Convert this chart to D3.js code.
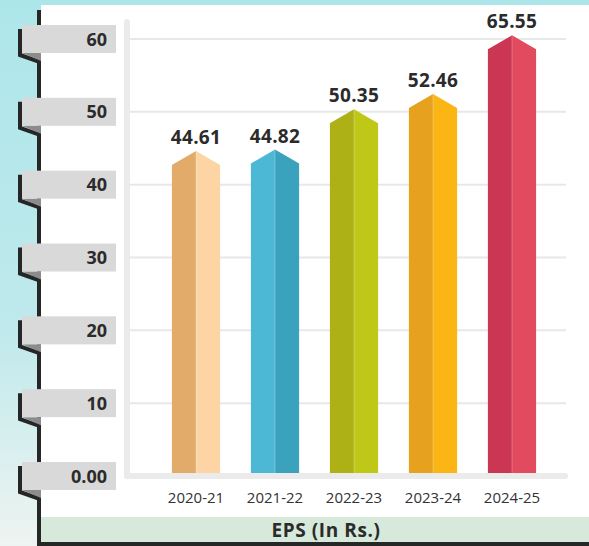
<!DOCTYPE html>
<html>
<head>
    <title>EPS (In Rs.)</title>
    <style>
        body { margin: 0; }
        svg { display: block; font-family: "Open Sans", sans-serif; }
    </style>
</head>
<body>
    <div id="chart"></div>
    <script src="https://d3js.org/d3.v7.min.js"></script>
    <script>
        // Data
        const years = ["2020-21", "2021-22", "2022-23", "2023-24", "2024-25"];
        const eps = [44.61, 44.82, 50.35, 52.46, 65.55];
        const tickValues = [0, 10, 20, 30, 40, 50, 60];
        const tickLabels = ["0.00", "10", "20", "30", "40", "50", "60"];
        const leftColors = ["#e3ab6a", "#4db7d6", "#adb116", "#e6a21e", "#cb3652"];
        const rightColors = ["#fdd5a5", "#3aa2bd", "#bfc817", "#fbb616", "#e24a60"];
        const barCap = 60.5; // bars above the axis top are cut here

        const W = 589, H = 546;

        const svg = d3.select("#chart").append("svg")
            .attr("width", W)
            .attr("height", H);

        // Background
        const defs = svg.append("defs");
        const bg = defs.append("linearGradient").attr("id", "bg")
            .attr("x1", 0).attr("y1", 0).attr("x2", 0).attr("y2", 1);
        bg.append("stop").attr("offset", "0%").attr("stop-color", "#ade6ea");
        bg.append("stop").attr("offset", "60%").attr("stop-color", "#bfe9ec");
        bg.append("stop").attr("offset", "100%").attr("stop-color", "#eef4f1");
        svg.append("rect").attr("width", W).attr("height", H).attr("fill", "url(#bg)");

        // White panel
        svg.append("rect")
            .attr("x", 41).attr("y", 5)
            .attr("width", W - 41).attr("height", H - 5)
            .attr("fill", "#fff");

        // Title band
        svg.append("rect")
            .attr("x", 41).attr("y", 517)
            .attr("width", W - 41).attr("height", 26)
            .attr("fill", "#d6e9da");
        svg.append("text")
            .attr("x", 326).attr("y", 537)
            .attr("text-anchor", "middle")
            .attr("font-size", 19).attr("font-weight", 700)
            .attr("letter-spacing", 0.6)
            .attr("fill", "#2b2b2b")
            .text("EPS (In Rs.)");

        // Dark frame line
        svg.append("path")
            .attr("d", "M39,10 V544 H" + W)
            .attr("fill", "none")
            .attr("stroke", "#262626")
            .attr("stroke-width", 4);

        // Scales
        const y = d3.scaleLinear().domain([0, 60]).range([476, 39]);
        const x = d3.scaleBand().domain(years).range([156.5, 551.5]).paddingInner(0.39).paddingOuter(0.195);

        // Grid lines
        svg.append("g")
            .selectAll("line")
            .data(tickValues.filter(d => d > 0))
            .join("line")
            .attr("x1", 130).attr("x2", 566)
            .attr("y1", d => y(d)).attr("y2", d => y(d))
            .attr("stroke", "#e8e8e8")
            .attr("stroke-width", 2);

        // Y-axis tags
        const tags = svg.append("g")
            .selectAll("g")
            .data(tickValues)
            .join("g")
            .attr("transform", d => "translate(0," + y(d) + ")");

        tags.append("path")
            .attr("d", "M20,-10 V16 L40,23")
            .attr("fill", "none")
            .attr("stroke", "#262626")
            .attr("stroke-width", 4);
        tags.append("path")
            .attr("d", "M22,14 H41 V22 Z")
            .attr("fill", "#8c8c8c");
        tags.append("rect")
            .attr("x", 22).attr("y", -14)
            .attr("width", 94).attr("height", 28)
            .attr("fill", "#d9d9d9");
        tags.append("text")
            .attr("x", 107).attr("y", 6.5)
            .attr("text-anchor", "end")
            .attr("font-size", 18).attr("font-weight", 700)
            .attr("fill", "#2b2b2b")
            .text((d, i) => tickLabels[i]);

        // Bars
        const tip = 14;
        const bw = x.bandwidth();
        const bars = svg.append("g")
            .selectAll("g")
            .data(years)
            .join("g");

        bars.each(function(d, i) {
            const g = d3.select(this);
            const x0 = x(d), xm = x0 + bw / 2, x1 = x0 + bw;
            const peak = y(Math.min(eps[i], barCap));
            const base = y(0);
            g.append("path")
                .attr("d", `M${x0},${base} V${peak + tip} L${xm},${peak} V${base} Z`)
                .attr("fill", leftColors[i]);
            g.append("path")
                .attr("d", `M${xm},${base} V${peak} L${x1},${peak + tip} V${base} Z`)
                .attr("fill", rightColors[i]);
            g.append("line")
                .attr("x1", xm).attr("x2", xm)
                .attr("y1", peak).attr("y2", base)
                .attr("stroke", "#fff").attr("stroke-opacity", 0.25)
                .attr("stroke-width", 1);
            g.append("text")
                .attr("x", xm).attr("y", peak - 7)
                .attr("text-anchor", "middle")
                .attr("font-size", 19).attr("font-weight", 700)
                .attr("letter-spacing", 0.3)
                .attr("fill", "#2b2b2b")
                .text(eps[i].toFixed(2));
        });

        // Axis frame bars
        svg.append("rect")
            .attr("x", 124).attr("y", 19)
            .attr("width", 6).attr("height", 460)
            .attr("rx", 3)
            .attr("fill", "#ebebeb");
        svg.append("rect")
            .attr("x", 124).attr("y", 473)
            .attr("width", 444).attr("height", 6)
            .attr("rx", 3)
            .attr("fill", "#ebebeb");

        // Category labels
        svg.append("g")
            .selectAll("text")
            .data(years)
            .join("text")
            .attr("x", d => x(d) + bw / 2)
            .attr("y", 503)
            .attr("text-anchor", "middle")
            .attr("font-size", 15)
            .attr("fill", "#333")
            .text(d => d);
    </script>
</body>
</html>
